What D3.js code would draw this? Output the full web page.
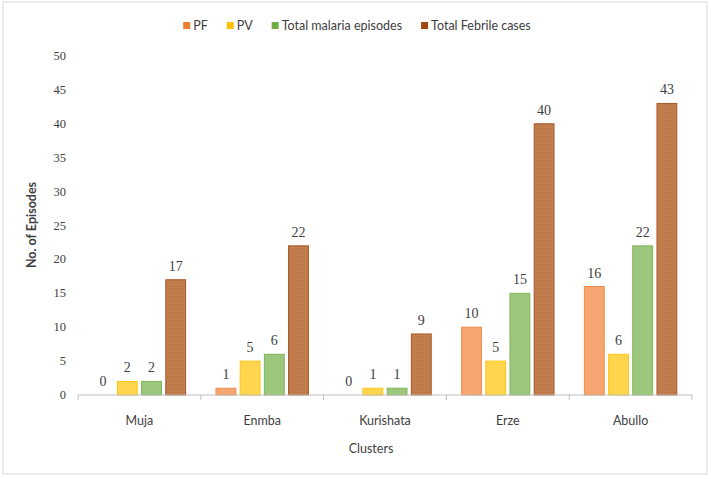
<!DOCTYPE html>
<html>
<head>
<meta charset="utf-8">
<script src="https://cdn.jsdelivr.net/npm/d3@7"></script>
<style>
  body { margin: 0; background: #fff; }
  svg text { fill: #404040; }
</style>
</head>
<body>
<svg id="chart" width="711" height="479"></svg>
<script>
var clusters = ["Muja", "Enmba", "Kurishata", "Erze", "Abullo"];
var seriesNames = ["PF", "PV", "Total malaria episodes", "Total Febrile cases"];
var pfValues = [0, 1, 0, 10, 16];
var pvValues = [2, 5, 1, 5, 6];
var malariaValues = [2, 6, 1, 15, 22];
var febrileValues = [17, 22, 9, 40, 43];
var yTicks = [0, 5, 10, 15, 20, 25, 30, 35, 40, 45, 50];

var seriesValues = [pfValues, pvValues, malariaValues, febrileValues];
var fills = ["#F5A670", "#FFD54D", "#9DC77C", "url(#brownTex)"];
var strokes = ["#F08C4E", "#FFC61A", "#7DB55A", "#A9582A"];
var legendColors = ["#ED7D31", "#FFC000", "#70AD47", "#9E480E"];

var svg = d3.select("#chart");
var labelFont = "Lato, 'Open Sans', sans-serif";
var numFont = "'Liberation Serif', 'DejaVu Serif', serif";

// texture for the febrile bars (fine horizontal grain)
var defs = svg.append("defs");
var pat = defs.append("pattern")
    .attr("id", "brownTex")
    .attr("patternUnits", "userSpaceOnUse")
    .attr("width", 4).attr("height", 2);
pat.append("rect").attr("width", 4).attr("height", 2).attr("fill", "#C4804F");
pat.append("rect").attr("width", 4).attr("height", 1).attr("fill", "#BC7647");

// outer border
svg.append("rect")
    .attr("x", 3).attr("y", 2)
    .attr("width", 704).attr("height", 472)
    .attr("fill", "#fff")
    .attr("stroke", "#d9d9d9");

var plotLeft = 78, plotRight = 692, plotTop = 56, plotBottom = 395;

var x0 = d3.scaleBand().domain(clusters).range([plotLeft, plotRight]).paddingInner(0).paddingOuter(0);
var x1 = d3.scaleBand().domain(d3.range(4)).range([13, x0.bandwidth() - 13]).paddingInner(0.18).paddingOuter(0.09);
var y = d3.scaleLinear().domain([0, 50]).range([plotBottom, plotTop]);

// y tick labels
svg.append("g").selectAll("text")
    .data(yTicks).join("text")
    .attr("x", 66)
    .attr("y", function(d) { return y(d) + 4; })
    .attr("text-anchor", "end")
    .attr("font-family", numFont)
    .attr("font-size", "12.5px")
    .text(function(d) { return d; });

// bars
var groups = svg.append("g").selectAll("g")
    .data(clusters).join("g")
    .attr("transform", function(d) { return "translate(" + x0(d) + ",0)"; });

groups.each(function(c, ci) {
    var g = d3.select(this);
    seriesValues.forEach(function(vals, si) {
        var v = vals[ci];
        if (v > 0) {
            g.append("rect")
                .attr("x", x1(si))
                .attr("y", y(v))
                .attr("width", x1.bandwidth())
                .attr("height", y(0) - y(v))
                .attr("fill", fills[si])
                .attr("stroke", strokes[si])
                .attr("stroke-width", 1);
        }
        g.append("text")
            .attr("x", x1(si) + x1.bandwidth() / 2)
            .attr("y", y(v) - 9)
            .attr("text-anchor", "middle")
            .attr("font-family", numFont)
            .attr("font-size", "14px")
            .text(v);
    });
});

// x axis
var xAxis = svg.append("g");
xAxis.append("line")
    .attr("x1", plotLeft).attr("x2", plotRight)
    .attr("y1", plotBottom).attr("y2", plotBottom)
    .attr("stroke", "#bfbfbf");
xAxis.selectAll("line.tick")
    .data(d3.range(clusters.length + 1)).join("line")
    .attr("class", "tick")
    .attr("x1", function(i) { return plotLeft + i * x0.step(); })
    .attr("x2", function(i) { return plotLeft + i * x0.step(); })
    .attr("y1", plotBottom).attr("y2", plotBottom + 5)
    .attr("stroke", "#bfbfbf");
xAxis.selectAll("text")
    .data(clusters).join("text")
    .attr("x", function(d) { return x0(d) + x0.bandwidth() / 2; })
    .attr("y", 425)
    .attr("text-anchor", "middle")
    .attr("font-family", labelFont)
    .attr("font-size", "12.5px")
    .text(function(d) { return d; });

// axis titles
svg.append("text")
    .attr("x", 371).attr("y", 453)
    .attr("text-anchor", "middle")
    .attr("font-family", labelFont)
    .attr("font-size", "12.5px")
    .text("Clusters");

svg.append("text")
    .attr("transform", "translate(36,225) rotate(-90)")
    .attr("text-anchor", "middle")
    .attr("font-family", labelFont)
    .attr("font-size", "12.5px")
    .attr("font-weight", "bold")
    .text("No. of Episodes");

// legend, laid out from measured text widths
var legend = svg.append("g").attr("transform", "translate(0,22)");
var cursor = 0;
seriesNames.forEach(function(name, i) {
    var item = legend.append("g").attr("transform", "translate(" + cursor + ",0)");
    item.append("rect")
        .attr("width", 7).attr("height", 7)
        .attr("fill", legendColors[i]);
    var t = item.append("text")
        .attr("x", 10).attr("y", 8)
        .attr("font-family", labelFont)
        .attr("font-size", "12.5px")
        .text(name);
    cursor += 10 + t.node().getComputedTextLength() + 19;
});
var legendWidth = cursor - 19;
legend.attr("transform", "translate(" + (357 - legendWidth / 2) + ",22)");
</script>
</body>
</html>
